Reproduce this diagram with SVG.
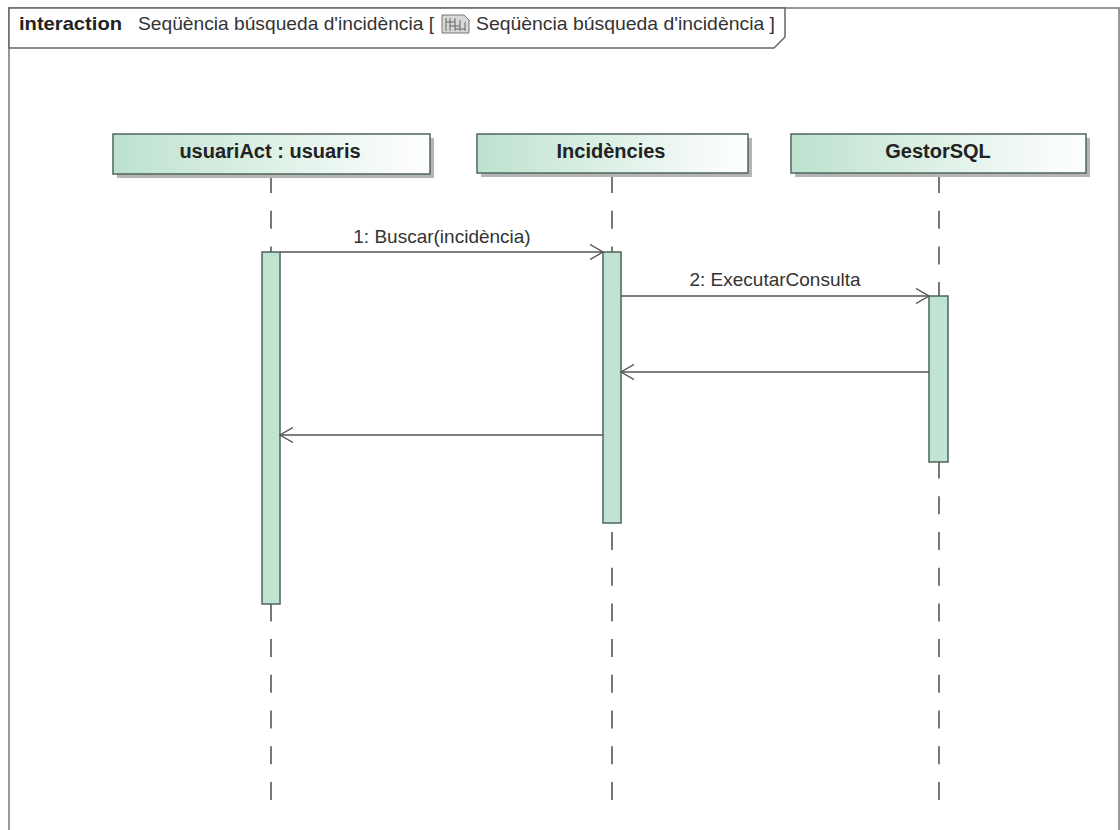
<svg xmlns="http://www.w3.org/2000/svg" width="1120" height="830" viewBox="0 0 1120 830">
<defs>
<linearGradient id="headGrad" x1="0" y1="0" x2="1" y2="0">
<stop offset="0" stop-color="#bde2cf"/>
<stop offset="1" stop-color="#ffffff"/>
</linearGradient>
<marker id="openArrow" markerWidth="16" markerHeight="16" refX="13" refY="8" orient="auto" markerUnits="userSpaceOnUse">
<path d="M0,0.5 L13,8 L0,15.5" fill="none" stroke="#555" stroke-width="1.4"/>
</marker>
<style>
.frame{fill:none;stroke:#777;stroke-width:1.5}
.tab{fill:#fff;stroke:#666;stroke-width:1.5}
.hdrB{font-family:"Liberation Sans",Arial,sans-serif;font-size:19px;font-weight:bold;fill:#222}
.hdr{font-family:"Liberation Sans",Arial,sans-serif;font-size:19px;fill:#333}
.shadow{fill:#b5b5b5}
.head{fill:url(#headGrad);stroke:#4f665c;stroke-width:1.5}
.headTxt{font-family:"Liberation Sans",Arial,sans-serif;font-size:20px;font-weight:bold;fill:#222;text-anchor:middle}
.life{stroke:#555;stroke-width:1.6;stroke-dasharray:18 17.7;fill:none}
.act{fill:#c1e3d2;stroke:#4a6659;stroke-width:1.5}
.msg{stroke:#555;stroke-width:1.5;fill:none;marker-end:url(#openArrow)}
.lbl{font-family:"Liberation Sans",Arial,sans-serif;font-size:19px;fill:#333;text-anchor:middle}
</style>
</defs>
<rect x="0" y="0" width="1120" height="830" fill="#fff"/>

<g id="frame">
<path class="frame" d="M9,832 L9,8 L1119,8 L1119,832"/>
<path class="tab" d="M9,8 L785,8 L785,37 L774,48 L9,48 Z"/>
<text class="hdrB" x="19" y="30" textLength="103" lengthAdjust="spacingAndGlyphs">interaction</text>
<text class="hdr" x="138" y="30" textLength="296" lengthAdjust="spacingAndGlyphs">Seqüència búsqueda d'incidència [</text>
<g id="frame-icon">
<path d="M442,15 L464,15 L469,20 L469,33 L442,33 Z" fill="#d8d8d8" stroke="#777" stroke-width="1"/>
<path d="M446,18 L446,31 M450,18 L450,31 M455,18 L455,31 M460,20 L460,31 M465,22 L465,31" stroke="#666" stroke-width="1" fill="none"/>
<path d="M446,22 L455,22 M450,26 L460,26 M455,29 L465,29" stroke="#666" stroke-width="1" fill="none"/>
</g>
<text class="hdr" x="476" y="30" textLength="299" lengthAdjust="spacingAndGlyphs">Seqüència búsqueda d'incidència ]</text>
</g>

<g id="lifeline-usuariAct">
<line class="life" x1="271" y1="175" x2="271" y2="802"/>
<rect class="shadow" x="117" y="138" width="317" height="40"/>
<rect class="head" x="113" y="134" width="317" height="40"/>
<text class="headTxt" x="270" y="158">usuariAct : usuaris</text>
<rect class="act" x="262" y="252" width="18" height="352"/>
</g>

<g id="lifeline-incidencies">
<line class="life" x1="612" y1="175" x2="612" y2="802"/>
<rect class="shadow" x="481" y="138" width="271" height="39"/>
<rect class="head" x="477" y="134" width="271" height="39"/>
<text class="headTxt" x="611" y="158">Incidències</text>
<rect class="act" x="603" y="252" width="18" height="271"/>
</g>

<g id="lifeline-gestorsql">
<line class="life" x1="939" y1="175" x2="939" y2="802"/>
<rect class="shadow" x="795" y="138" width="295" height="39"/>
<rect class="head" x="791" y="134" width="295" height="39"/>
<text class="headTxt" x="938" y="158">GestorSQL</text>
<rect class="act" x="929" y="296" width="19" height="166"/>
</g>

<g id="connectors">
<line class="msg" x1="280" y1="252" x2="603" y2="252"/>
<text class="lbl" x="442" y="243">1: Buscar(incidència)</text>
<line class="msg" x1="621" y1="296" x2="929" y2="296"/>
<text class="lbl" x="775" y="286">2: ExecutarConsulta</text>
<line class="msg" x1="929" y1="372" x2="621" y2="372"/>
<line class="msg" x1="603" y1="435" x2="280" y2="435"/>
</g>
</svg>
